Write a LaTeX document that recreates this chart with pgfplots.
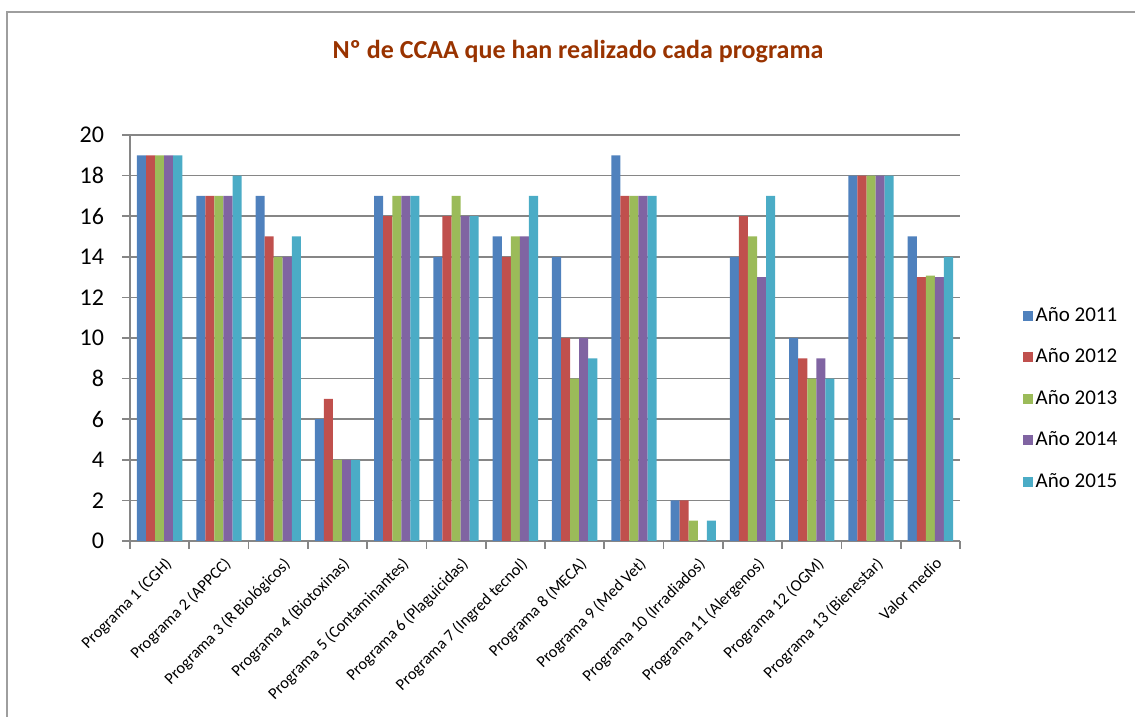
\documentclass[border=0pt]{standalone}
\usepackage{fontspec}
\setmainfont{Carlito}
\usepackage{pgfplots}
\usepackage{pgfplotstable}
\pgfplotsset{compat=1.18}
\definecolor{c11}{HTML}{4F81BD}
\definecolor{c12}{HTML}{C0504D}
\definecolor{c13}{HTML}{9BBB59}
\definecolor{c14}{HTML}{8064A2}
\definecolor{c15}{HTML}{4BACC6}
\definecolor{gridgray}{HTML}{868686}
\definecolor{titulo}{HTML}{993300}

% CCAA por programa y año
\pgfplotstableread{
x y11 y12 y13 y14 y15
0 19 19 19 19 19
1 17 17 17 17 18
2 17 15 14 14 15
3 6 7 4 4 4
4 17 16 17 17 17
5 14 16 17 16 16
6 15 14 15 15 17
7 14 10 8 10 9
8 19 17 17 17 17
9 2 2 1 0 1
10 14 16 15 13 17
11 10 9 8 9 8
12 18 18 18 18 18
13 15 13 13.07 13 14
}\datos

\begin{document}
\begin{tikzpicture}
\path[use as bounding box] (0,0) rectangle (567.5pt,358.5pt);
\draw[gridgray!80, line width=0.8pt] (3.5pt,0) -- (3.5pt,352.5pt) -- (567.5pt,352.5pt);
\node[font=\fontsize{13}{15}\bfseries\selectfont, text=titulo] at (289pt,332.5pt) {Nº de CCAA que han realizado cada programa};

\begin{axis}[
  at={(65pt,88pt)}, anchor=south west,
  scale only axis, width=415pt, height=203pt,
  ybar=0pt, bar width=4.53pt,
  xmin=-0.5, xmax=13.5, ymin=0, ymax=20,
  ytick={0,2,...,20},
  xtick={0,...,13},
  minor xtick={-0.5,0.5,...,13.5},
  xticklabels={Programa 1 (CGH),Programa 2 (APPCC),Programa 3 (R Biológicos),Programa 4 (Biotoxinas),Programa 5 (Contaminantes),Programa 6 (Plaguicidas),Programa 7 (Ingred tecnol),Programa 8 (MECA),Programa 9 (Med Vet),Programa 10 (Irradiados),Programa 11 (Alergenos),Programa 12 (OGM),Programa 13 (Bienestar),Valor medio},
  axis lines=left, axis line style={-, draw=gridgray, line width=0.8pt},
  ymajorgrids, grid style={draw=gridgray, line width=0.8pt},
  tick align=outside, major tick length=4pt, minor tick length=4pt,
  tick style={draw=gridgray, line width=0.8pt},
  major x tick style={draw=none},
  /pgf/number format/assume math mode=true,
  yticklabel style={font=\fontsize{12}{14}\selectfont, xshift=-5.5pt},
  xticklabel style={font=\fontsize{8.2}{9}\selectfont, rotate=45, anchor=north east, inner sep=1pt, yshift=-3pt},
  legend style={draw=none, fill=none, inner sep=0pt, at={(axis description cs:1.075,0.35)}, anchor=west,
    font=\fontsize{10.5}{12}\selectfont, row sep=9.2pt, nodes={inner sep=1.5pt}},
  legend cell align=left,
  legend image code/.code={\fill[#1] (0pt,-2.5pt) rectangle (5pt,2.5pt);},
]
\addplot[fill=c11, draw=none] table[x=x, y=y11] {\datos};
\addlegendentry{Año 2011}
\addplot[fill=c12, draw=none] table[x=x, y=y12] {\datos};
\addlegendentry{Año 2012}
\addplot[fill=c13, draw=none] table[x=x, y=y13] {\datos};
\addlegendentry{Año 2013}
\addplot[fill=c14, draw=none] table[x=x, y=y14] {\datos};
\addlegendentry{Año 2014}
\addplot[fill=c15, draw=none] table[x=x, y=y15] {\datos};
\addlegendentry{Año 2015}
\end{axis}
\end{tikzpicture}
\end{document}
